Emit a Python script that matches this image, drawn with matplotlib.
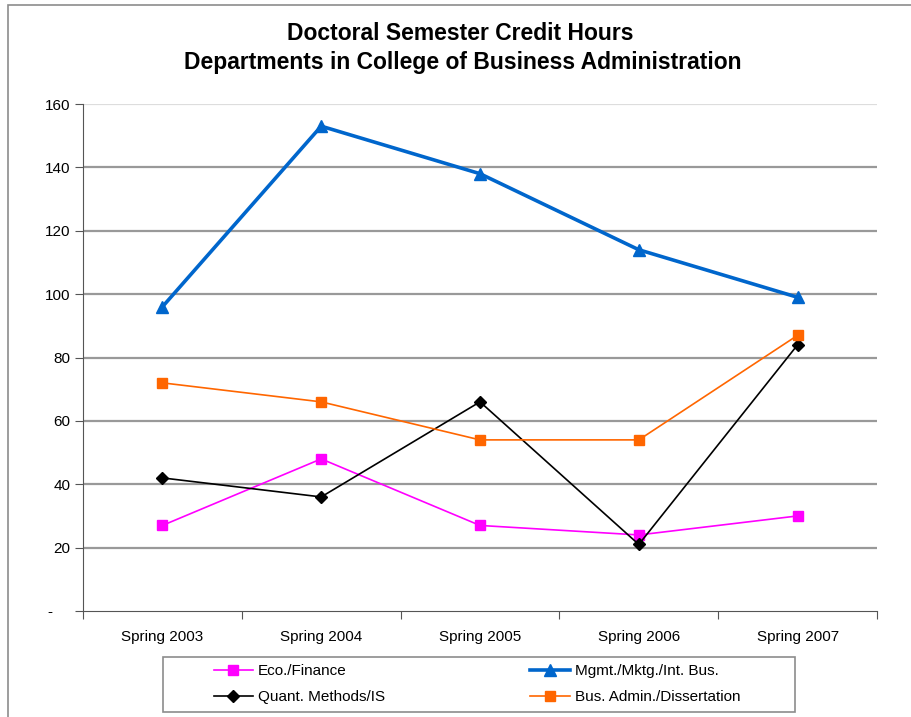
import matplotlib.pyplot as plt
from matplotlib.patches import Rectangle
import numpy as np

plt.rcParams['font.family'] = ['Liberation Sans', 'DejaVu Sans']

semesters = ['Spring 2003', 'Spring 2004', 'Spring 2005', 'Spring 2006', 'Spring 2007']
eco_finance = [27, 48, 27, 24, 30]
mgmt_mktg = [96, 153, 138, 114, 99]
quant_methods = [42, 36, 66, 21, 84]
bus_admin = [72, 66, 54, 54, 87]
y_ticks = [0, 20, 40, 60, 80, 100, 120, 140, 160]
y_labels = ['-    ', '20', '40', '60', '80', '100', '120', '140', '160']

W, H = 912, 717
fig = plt.figure(figsize=(W / 100, H / 100), dpi=100)
ax = fig.add_axes([83 / W, 1 - 611 / H, (877 - 83) / W, (611 - 104) / H])

# outer chart border
fig.patches.append(Rectangle((8 / W, -0.05), 1.2, 1 - 5 / H + 0.05,
                             transform=fig.transFigure, fill=False,
                             edgecolor='#8c8c8c', linewidth=1.2))

x = np.arange(len(semesters))
l_eco, = ax.plot(x, eco_finance, color='#FF00FF', lw=1.2, marker='s', ms=7,
                 label='Eco./Finance')
l_mgmt, = ax.plot(x, mgmt_mktg, color='#0066CC', lw=2.6, marker='^', ms=8,
                  label='Mgmt./Mktg./Int. Bus.')
l_quant, = ax.plot(x, quant_methods, color='black', lw=1.2, marker='D', ms=6,
                   label='Quant. Methods/IS')
l_bus, = ax.plot(x, bus_admin, color='#FF6600', lw=1.2, marker='s', ms=7,
                 label='Bus. Admin./Dissertation')

ax.set_xlim(-0.5, len(semesters) - 0.5)
ax.set_ylim(0, 160)
ax.set_yticks(y_ticks)
ax.set_yticklabels(y_labels)
ax.set_xticks(np.arange(-0.5, len(semesters)))
ax.set_xticklabels([])
ax.set_xticks(x, minor=True)
ax.set_xticklabels(semesters, minor=True)
ax.tick_params(axis='x', which='minor', length=0, pad=14, labelsize=11)
ax.tick_params(axis='x', which='major', length=6, color='#555555', direction='out')
ax.tick_params(axis='y', length=6, color='#555555', labelsize=11, pad=3)

for v in y_ticks[1:-1]:
    ax.axhline(v, color='#999999', lw=1.6, zorder=0)
ax.axhline(160, color='#dddddd', lw=1.6, zorder=0)

ax.spines['top'].set_visible(False)
ax.spines['right'].set_visible(False)
ax.spines['left'].set_color('#555555')
ax.spines['bottom'].set_color('#555555')

fig.text(0.505, 1 - 33 / H, 'Doctoral Semester Credit Hours', ha='center', va='center',
         fontsize=16.5, fontweight='bold')
fig.text(0.507, 1 - 62 / H, 'Departments in College of Business Administration',
         ha='center', va='center', fontsize=16.5, fontweight='bold')

# legend entries laid out row by row, box drawn separately
leg = fig.legend(handles=[l_eco, l_quant, l_mgmt, l_bus], ncol=2,
                 loc='center left', bbox_to_anchor=(206 / W, 1 - 684 / H),
                 fontsize=11, frameon=False, handlelength=2.6,
                 columnspacing=9.5, borderpad=0, labelspacing=0.8,
                 handletextpad=0.3)
fig.patches.append(Rectangle((163 / W, 1 - 712 / H), (795 - 163) / W, (712 - 657) / H,
                             transform=fig.transFigure, fill=False,
                             edgecolor='#8c8c8c', linewidth=1.2))

fig.savefig('out.png', dpi=100)
